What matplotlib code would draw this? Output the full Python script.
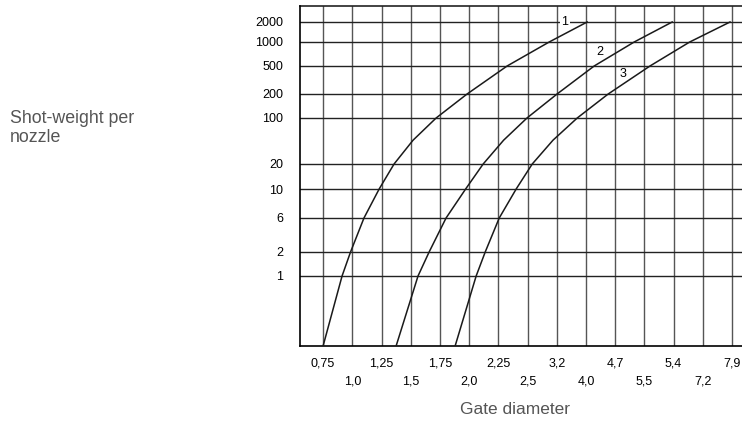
import numpy as np
import matplotlib
matplotlib.use('Agg')
import matplotlib.pyplot as plt

plt.rcParams['font.family'] = ['Liberation Sans', 'DejaVu Sans']

# --- data ---
# x axis: equally spaced columns, labels are staggered in two rows
x_labels = ['0,75', '1,0', '1,25', '1,5', '1,75', '2,0', '2,25', '2,5',
            '3,2', '4,0', '4,7', '5,5', '5,4', '7,2', '7,9']
y_ticks = [1, 2, 6, 10, 20, 100, 200, 500, 1000, 2000]

# curves: column position (index on the x grid) and shot weight
c1_x = [0.0, 0.65, 0.94, 1.40, 1.92, 2.43, 3.08, 3.87, 4.93, 6.30, 7.74, 9.04]
c1_y = [0.133, 1, 2, 6, 10, 20, 46, 100, 200, 500, 1000, 2000]

c2_x = [2.50, 3.25, 3.63, 4.21, 4.88, 5.48, 6.18, 6.98, 8.01, 9.28, 10.65, 11.95]
c2_y = [0.133, 1, 2, 6, 10, 20, 46, 100, 200, 500, 1000, 2000]

c3_x = [4.52, 5.24, 5.55, 6.03, 6.61, 7.16, 7.87, 8.70, 9.76, 11.19, 12.55, 13.93]
c3_y = [0.133, 1, 2, 6, 10, 20, 46, 100, 200, 500, 1000, 2000]

# the printed grid is not a clean log scale: map log(value) to measured height (px)
anchor_log = np.log10([0.133, 1, 2, 6, 10, 20, 100, 200, 500, 1000, 2000, 3500])
anchor_px = 346 - np.array([346, 276, 252, 218, 189, 164, 118, 94, 66, 42, 22, 6])


def fwd(v):
    v = np.clip(np.asarray(v, dtype=float), 1e-6, None)
    return np.interp(np.log10(v), anchor_log, anchor_px)


def inv(p):
    return 10 ** np.interp(np.asarray(p, dtype=float), anchor_px, anchor_log)


W, H = 742, 421
fig = plt.figure(figsize=(W / 100, H / 100), dpi=100)
ax = fig.add_axes([300 / W, (H - 346) / H, (W - 300) / W, 340 / H])

ax.set_yscale('function', functions=(fwd, inv))
ax.set_ylim(0.133, 3500)
ax.set_xlim(-0.79, 14.34)

# grid
for i in range(len(x_labels)):
    ax.axvline(i, color='#555555', lw=1.0, zorder=1)
for v in y_ticks:
    ax.axhline(v, color='#222222', lw=1.0, zorder=1)

# curves
for cx, cy in [(c1_x, c1_y), (c2_x, c2_y), (c3_x, c3_y)]:
    ax.plot(cx, cy, color='#1a1a1a', lw=1.1, zorder=3, solid_joinstyle='round')

# curve numbers
ax.text(8.28, 2000, '1', ha='center', va='center', fontsize=9, zorder=4,
        bbox=dict(facecolor='white', edgecolor='none', pad=1.0))
ax.text(9.48, 750, '2', ha='center', va='center', fontsize=9, zorder=4)
ax.text(10.27, 385, '3', ha='center', va='center', fontsize=9, zorder=4)

# ticks
ax.set_yticks(y_ticks)
ax.set_yticklabels([str(v) for v in y_ticks], fontsize=9)
ax.yaxis.set_minor_locator(matplotlib.ticker.NullLocator())
ax.set_xticks([])
ax.tick_params(axis='y', length=0, pad=12)

for i, lab in enumerate(x_labels):
    row_y = -17 if i % 2 == 0 else -36
    ax.annotate(lab, xy=(i, 0), xycoords=('data', 'axes fraction'),
                xytext=(0, row_y), textcoords='offset pixels',
                ha='center', va='center', fontsize=9)

for s in ['top', 'right']:
    ax.spines[s].set_visible(False)
ax.axhline(3500, color='#222222', lw=1.2, clip_on=False)
ax.spines['left'].set_linewidth(1.2)
ax.spines['bottom'].set_linewidth(1.2)

fig.text(515 / W, 1 - 410 / H, 'Gate diameter', ha='center', va='center',
         fontsize=12.5, color='#555555')
fig.text(10 / W, 1 - 128 / H, 'Shot-weight per\nnozzle', ha='left', va='center',
         fontsize=12.8, color='#555555', linespacing=1.1)

fig.savefig('out.png', dpi=100)
